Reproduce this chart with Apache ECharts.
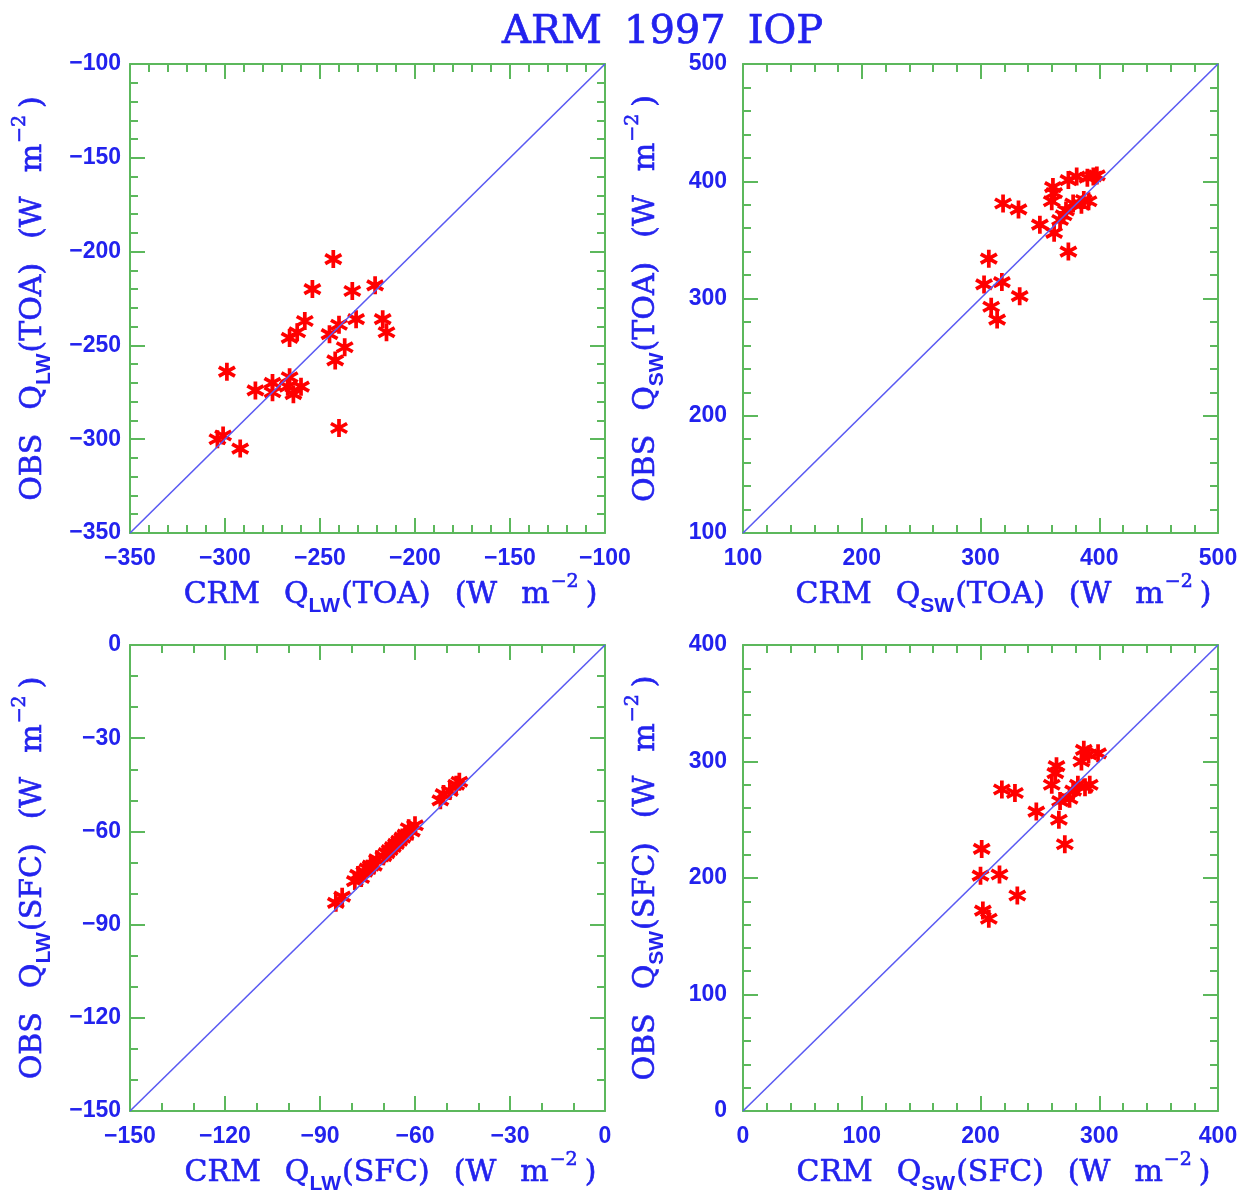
<!DOCTYPE html>
<html>
<head>
<meta charset="utf-8">
<title>ARM 1997 IOP</title>
<script src="https://cdn.jsdelivr.net/npm/echarts@6/dist/echarts.min.js"></script>
<style>
  html, body { margin: 0; padding: 0; background: #fff; }
  #chart { width: 1248px; height: 1196px; }
</style>
</head>
<body>
<div id="chart"></div>
<script>
// CRM vs OBS radiative fluxes, four panels
const lwToaCrm = [-243, -254, -233, -221, -258, -262, -266, -231, -240, -245, -217, -215, -237, -242, -299, -284, -275, -275, -266, -264, -260, -267, -240, -304, -301, -292];
const lwToaObs = [-204, -220, -221, -218, -237, -243, -246, -236, -239, -244, -236, -243, -251, -258, -264, -274, -270, -275, -267, -276, -272, -272, -294, -300, -298, -305];

const swToaCrm = [319, 332, 350, 362, 361, 362, 360, 381, 390, 395, 374, 387, 391, 378, 370, 367, 374, 307, 303, 318, 333, 309, 314, 385, 398, 372];
const swToaObs = [381, 376, 363, 356, 395, 390, 383, 404, 403, 404, 401, 384, 383, 381, 371, 367, 340, 334, 312, 314, 302, 293, 282, 380, 405, 375];

const lwSfcCrm = [-85, -83, -79, -78, -77, -76, -75, -74, -73, -72, -70, -69, -68, -67, -66, -65, -64, -63, -62, -61, -60, -52, -51, -49, -47, -46];
const lwSfcObs = [-83, -81, -76, -74, -75, -73, -72, -71, -71, -69, -68, -67, -66, -65, -64, -63, -62, -61, -59, -60, -58, -50, -48, -47, -45, -44];

const swSfcCrm = [201, 200, 216, 231, 202, 207, 218, 229, 247, 264, 263, 260, 266, 271, 267, 275, 278, 282, 287, 291, 299, 285, 292, 288];
const swSfcObs = [225, 202, 203, 185, 172, 165, 276, 273, 257, 296, 290, 280, 250, 229, 266, 268, 275, 280, 310, 306, 307, 300, 280, 278];

const axisMin = [-350, 100, -150, 0];
const axisMax = [-100, 500, 0, 400];
const majorStep = [50, 100, 30, 100];
const minorSplit = [5, 5, 3, 5];
const bandTag = ["LW", "SW", "LW", "SW"];
const siteTag = ["TOA", "TOA", "SFC", "SFC"];

const panels = [
  [lwToaCrm, lwToaObs],
  [swToaCrm, swToaObs],
  [lwSfcCrm, lwSfcObs],
  [swSfcCrm, swSfcObs],
];

const BLUE = "#2222ee";
const GREEN = "#5cb85c";
const RED = "#ff0000";
const DIAG = "#5a5af2";

const gridBoxes = [
  { left: 130, top: 64, width: 475, height: 469 },
  { left: 743, top: 64, width: 475, height: 469 },
  { left: 130, top: 645, width: 475, height: 468 },
  { left: 743, top: 645, width: 475, height: 468 },
];

// six-armed asterisk
const STAR =
  "path://M-2,-10L2,-10L2,10L-2,10Z" +
  "M-9.66,-3.27L-7.66,-6.73L9.66,3.27L7.66,6.73Z" +
  "M7.66,-6.73L9.66,-3.27L-7.66,6.73L-9.66,3.27Z";

function axisTitle(prefix, i) {
  return (
    `{t|${prefix}}{sp| }{t|Q}{s|${bandTag[i]}}{t|(${siteTag[i]})}` +
    "{sp| }{t|(W}{sp| }{t|m}{p|\u22122}{t|)}"
  );
}

const serif = {
  fontFamily: "DejaVu Serif",
  color: BLUE,
  textBorderColor: BLUE,
  textBorderWidth: 0.6,
};

const titleRich = {
  t: { ...serif, fontSize: 30, lineHeight: 44 },
  sp: { ...serif, fontSize: 30, width: 24, lineHeight: 44 },
  s: { fontFamily: "Liberation Sans", fontWeight: "bold", fontSize: 21, color: BLUE, lineHeight: 22, verticalAlign: "bottom", padding: [0, 1, 0, 0] },
  p: { ...serif, fontSize: 19, lineHeight: 20, verticalAlign: "top", padding: [0, 7, 0, 1] },
};

const fmt = (v) => String(v).replace("-", "\u2212");

function frameAxis(i, position, withLabels, name) {
  const rightCol = i % 2 === 1;
  return {
    type: "value",
    gridIndex: i,
    position: position,
    min: axisMin[i],
    max: axisMax[i],
    interval: majorStep[i],
    axisLine: { show: true, onZero: false, lineStyle: { color: GREEN, width: 2 } },
    axisTick: { show: true, inside: true, length: 15, lineStyle: { color: GREEN, width: 2 } },
    minorTick: { show: true, splitNumber: minorSplit[i], length: 8, lineStyle: { color: GREEN, width: 2 } },
    splitLine: { show: false },
    axisLabel: {
      show: withLabels,
      color: BLUE,
      fontFamily: "Liberation Sans",
      fontWeight: "bold",
      fontSize: 23,
      margin: position === "bottom" ? 14 : rightCol ? 16 : 9,
      formatter: fmt,
    },
    name: name || "",
    nameLocation: "middle",
    nameGap: position === "bottom" ? 40 : 75,
    nameRotate: position === "left" ? 90 : 0,
    nameMoveOverlap: false,
    nameTextStyle: {
      rich: titleRich,
      padding: position === "bottom" ? [0, 0, 0, 46] : 0,
    },
  };
}

const xAxes = [];
const yAxes = [];
const series = [];

panels.forEach(([crm, obs], i) => {
  xAxes.push(frameAxis(i, "bottom", true, axisTitle("CRM", i)));
  xAxes.push(frameAxis(i, "top", false));
  yAxes.push(frameAxis(i, "left", true, axisTitle("OBS", i)));
  yAxes.push(frameAxis(i, "right", false));

  series.push({
    type: "line",
    xAxisIndex: i * 2,
    yAxisIndex: i * 2,
    data: [
      [axisMin[i], axisMin[i]],
      [axisMax[i], axisMax[i]],
    ],
    symbol: "none",
    silent: true,
    lineStyle: { color: DIAG, width: 1.6 },
  });

  series.push({
    type: "scatter",
    xAxisIndex: i * 2,
    yAxisIndex: i * 2,
    data: crm.map((x, k) => [x, obs[k]]),
    symbol: STAR,
    symbolSize: 18,
    itemStyle: { color: RED, opacity: 1 },
  });
});

const chart = echarts.init(document.getElementById("chart"), null, { renderer: "canvas" });

chart.setOption({
  animation: false,
  backgroundColor: "#ffffff",
  title: {
    text: "{T|ARM}{g| }{T|1997}{g| }{T|IOP}",
    left: 497,
    top: 8,
    textStyle: {
      fontWeight: "normal",
      rich: {
        T: { ...serif, fontSize: 40, textBorderWidth: 0.7 },
        g: { ...serif, fontSize: 40, width: 22 },
      },
    },
  },
  grid: gridBoxes,
  xAxis: xAxes,
  yAxis: yAxes,
  series: series,
});

window.addEventListener("resize", () => chart.resize());
</script>
</body>
</html>
